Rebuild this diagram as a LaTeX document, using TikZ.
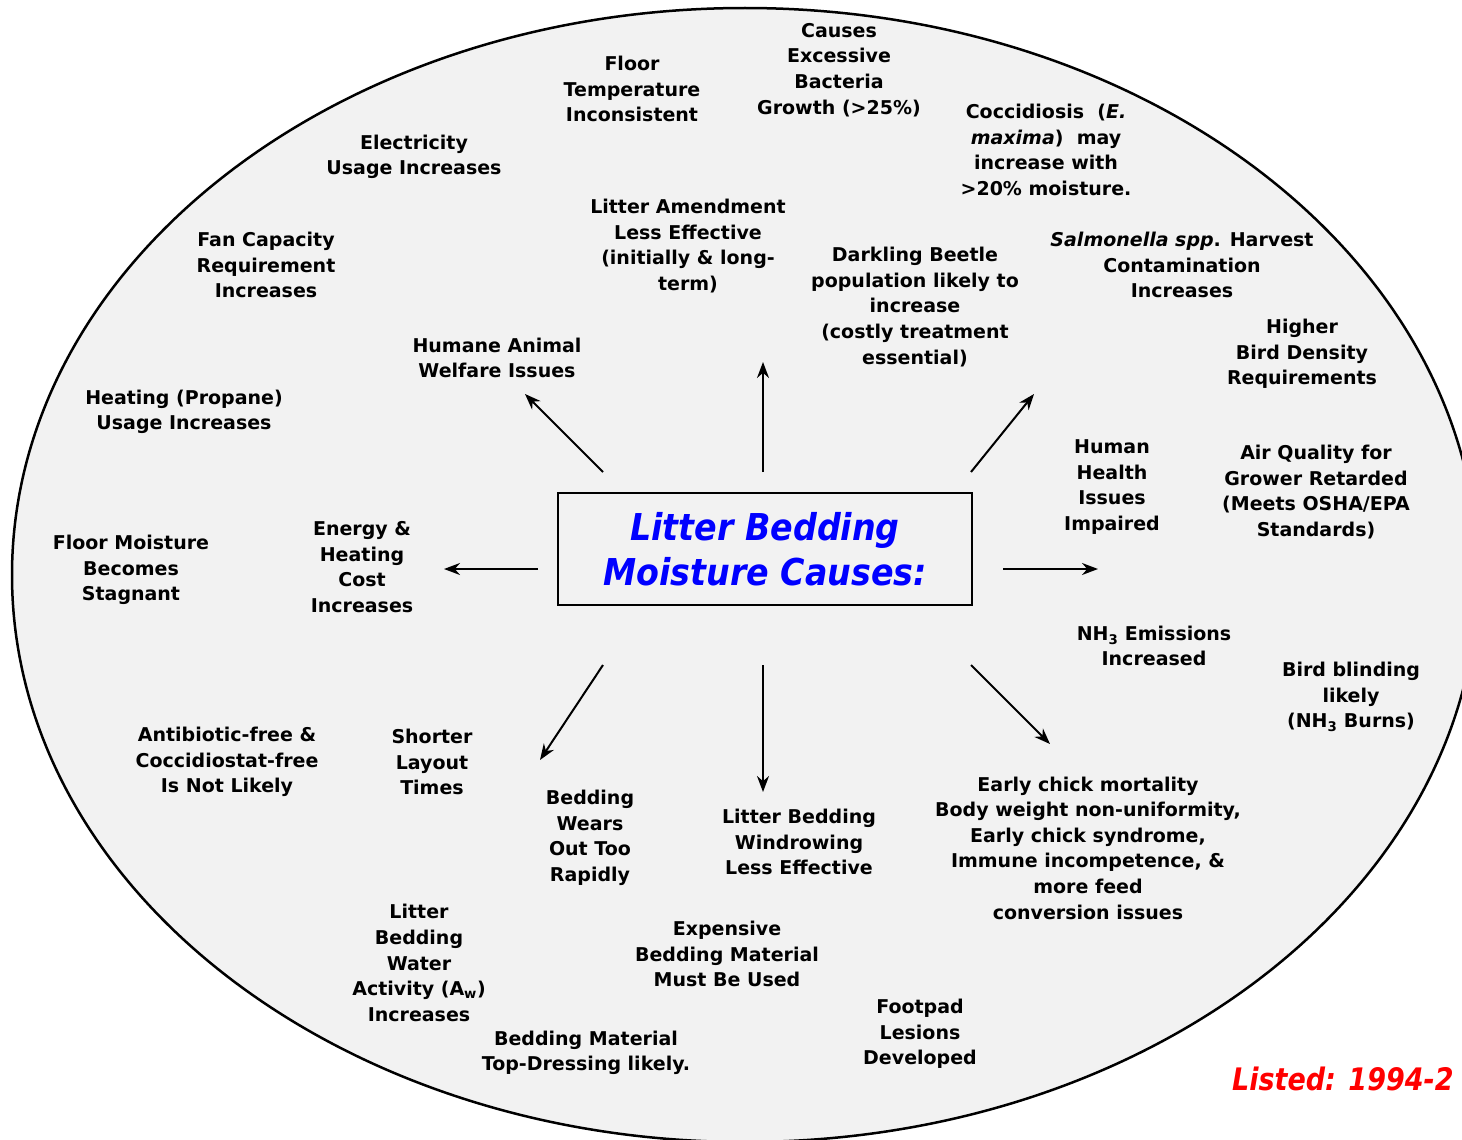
\documentclass[tikz,border=0pt]{standalone}
\usepackage{fontspec}
\setmainfont{DejaVu Sans}
\newfontfamily\narrowfont[FakeStretch=0.9]{DejaVu Sans}
\newfontfamily\listfont[FakeStretch=0.87]{DejaVu Sans}
\usetikzlibrary{arrows.meta}
\definecolor{bggray}{HTML}{F2F2F2}
\definecolor{titleblue}{RGB}{0,0,255}
\definecolor{listred}{RGB}{255,0,0}
\begin{document}
\begin{tikzpicture}[x=1pt,y=-1pt,
  lbl/.style={align=center, font=\fontsize{19}{25.6}\selectfont\bfseries, inner sep=0pt},
  arr/.style={-{Stealth[length=16pt,width=12pt]}, line width=2pt}]
\useasboundingbox (0,0) rectangle (1462,1140);
\clip (0,0) rectangle (1462,1140);
\fill[white] (0,0) rectangle (1462,1140);
\draw[fill=bggray, line width=2.5pt] (745,575) ellipse [x radius=733, y radius=567];

% central box
\node[draw, line width=2.5pt, fill=bggray, minimum width=414pt, minimum height=112pt, inner sep=0pt,
  align=center, text=titleblue, font=\narrowfont\fontsize{37}{45}\selectfont\bfseries\itshape] (core) at (765,549)
  {Litter Bedding\\Moisture Causes:};

% labels
\node[lbl] (floortemp) at (632,89) {Floor\\Temperature\\Inconsistent};
\node[lbl] (bacteria) at (839,70) {Causes\\Excessive\\Bacteria\\Growth (>25\%)};
\node[lbl] (cocci) at (1046,150) {Coccidiosis~ (\textit{E.}\\\textit{maxima})~ may\\increase with\\>20\% moisture.};
\node[lbl] (elec) at (414,157) {Electricity\\Usage Increases};
\node[lbl] (amend) at (688,246) {Litter Amendment\\Less Effective\\(initially \& long-\\term)};
\node[lbl] (beetle) at (915,307) {Darkling Beetle\\population likely to\\increase\\(costly treatment\\essential)};
\node[lbl] (salmo) at (1182,265) {\textit{Salmonella spp}. Harvest\\Contamination\\Increases};
\node[lbl] (fan) at (266,265) {Fan Capacity\\Requirement\\Increases};
\node[lbl] (density) at (1302,354) {Higher\\Bird Density\\Requirements};
\node[lbl] (humane) at (497,358) {Humane Animal\\Welfare Issues};
\node[lbl] (propane) at (184,412) {Heating (Propane)\\Usage Increases};
\node[lbl] (health) at (1112,487) {Human\\Health\\Issues\\Impaired};
\node[lbl] (air) at (1316,492) {Air Quality for\\Grower Retarded\\(Meets OSHA/EPA\\Standards)};
\node[lbl] (energy) at (362,567) {Energy \&\\Heating\\Cost\\Increases};
\node[lbl] (stagnant) at (131,570) {Floor Moisture\\Becomes\\Stagnant};
\node[lbl] (nh3) at (1154,646) {NH\textsubscript{3} Emissions\\Increased};
\node[lbl] (blind) at (1351,697) {Bird blinding\\likely\\(NH\textsubscript{3} Burns)};
\node[lbl] (antibiotic) at (227,762) {Antibiotic-free \&\\Coccidiostat-free\\Is Not Likely};
\node[lbl] (layout) at (432,762) {Shorter\\Layout\\Times};
\node[lbl] (chick) at (1088,848) {Early chick mortality\\Body weight non-uniformity,\\Early chick syndrome,\\Immune incompetence, \&\\more feed\\conversion issues};
\node[lbl] (wears) at (590,838) {Bedding\\Wears\\Out Too\\Rapidly};
\node[lbl] (windrow) at (799,842) {Litter Bedding\\Windrowing\\Less Effective};
\node[lbl] (aw) at (419,963) {Litter\\Bedding\\Water\\Activity (A\textsubscript{w})\\Increases};
\node[lbl] (expensive) at (727,954) {Expensive\\Bedding Material\\Must Be Used};
\node[lbl] (footpad) at (920,1034) {Footpad\\Lesions\\Developed};
\node[lbl] (topdress) at (586,1053) {Bedding Material\\Top-Dressing likely.};
\node[anchor=base west, inner sep=0pt, text=listred, font=\listfont\fontsize{31}{31}\selectfont\bfseries\itshape] (listed) at (1232,1090) {Listed: 1994-2};

% arrow end points
\coordinate (nS) at (763,472);   \coordinate (nE) at (763,362);
\coordinate (nwS) at (603,472);  \coordinate (nwE) at (525,394);
\coordinate (neS) at (971,472);  \coordinate (neE) at (1034,394);
\coordinate (wS) at (538,569);   \coordinate (wE) at (444,569);
\coordinate (eS) at (1003,569);  \coordinate (eE) at (1098,569);
\coordinate (swS) at (603,665);  \coordinate (swE) at (540,760);
\coordinate (sS) at (763,665);   \coordinate (sE) at (763,792);
\coordinate (seS) at (971,665);  \coordinate (seE) at (1050,744);
\draw[arr] (nS) -- (nE);
\draw[arr] (nwS) -- (nwE);
\draw[arr] (neS) -- (neE);
\draw[arr] (wS) -- (wE);
\draw[arr] (eS) -- (eE);
\draw[arr] (swS) -- (swE);
\draw[arr] (sS) -- (sE);
\draw[arr] (seS) -- (seE);
\end{tikzpicture}
\end{document}
